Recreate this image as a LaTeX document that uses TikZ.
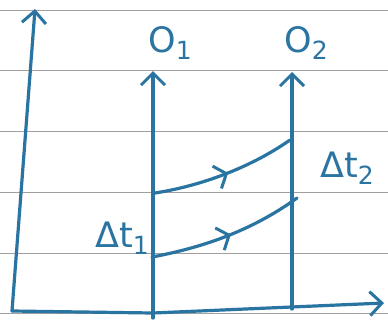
\documentclass[tikz,border=0pt]{standalone}
\usepackage{fontspec}
\setmainfont{DejaVu Sans}
\usetikzlibrary{arrows.meta,decorations.markings}
\definecolor{ink}{HTML}{2A74A2}
\definecolor{ruled}{HTML}{A0A0A0}
\newcommand{\lowsub}[1]{\raisebox{-0.2em}{\fontsize{25}{26}\selectfont #1}}
\begin{document}
\begin{tikzpicture}[x=1pt,y=-1pt,
  inkline/.style={draw=ink, line width=3.2pt, line cap=round, line join=round},
  barb/.style={-{Straight Barb[length=12pt,width=24pt,line width=3pt]}},
  midarrow/.style={postaction={decorate},decoration={markings,
    mark=at position #1 with {\arrow{Straight Barb[length=10pt,width=24pt,line width=3pt]}}}},
  lab/.style={text=ink, font=\fontsize{35}{38}\selectfont, inner sep=0pt}]
\useasboundingbox (0,0) rectangle (388,327);
\fill[white] (0,0) rectangle (388,327);
\foreach \y in {10,70,131,192,253,313}
  \draw[ruled, line width=0.9pt] (0,\y) -- (388,\y);
% axes
\coordinate (orig) at (12,311);
\coordinate (ytop) at (35,9);
\coordinate (xend) at (384,303);
\draw[inkline, barb] (orig) -- (ytop);
\draw[inkline, barb] (orig) -- (153,313) -- (xend);
% observers
\coordinate (o1b) at (153,318);
\coordinate (o1t) at (153,71);
\coordinate (o2b) at (292,309);
\coordinate (o2t) at (292,72);
\draw[inkline, barb] (o1b) -- (o1t);
\draw[inkline, barb] (o2b) -- (o2t);
\node[lab] (o1lab) at (170,43) {O\lowsub{1}};
\node[lab] (o2lab) at (306,43) {O\lowsub{2}};
% signals
\coordinate (s1a) at (152,257);
\coordinate (s1b) at (297,198);
\coordinate (s2a) at (155,193);
\coordinate (s2b) at (290,140);
\draw[inkline, midarrow=0.52] (s1a) .. controls (200,248) and (250,232) .. (s1b);
\draw[inkline, midarrow=0.52] (s2a) .. controls (200,186) and (250,168) .. (s2b);
\node[lab] (dt1) at (122,238) {Δt\lowsub{1}};
\node[lab] (dt2) at (347,168) {Δt\lowsub{2}};
\end{tikzpicture}
\end{document}
